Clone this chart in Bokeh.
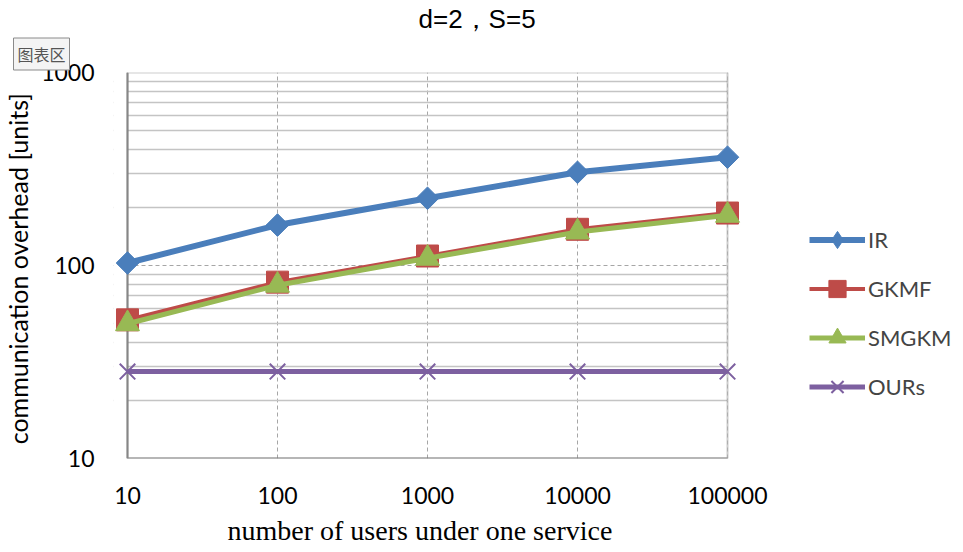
import math
from bokeh.plotting import figure
from bokeh.models import (FixedTicker, Legend, LegendItem, Title, BoxAnnotation)
from bokeh.embed import file_html
from bokeh.resources import INLINE

users = [10, 100, 1000, 10000, 100000]
x_tick_labels = ["10", "100", "1000", "10000", "100000"]
y_ticks = [10, 100, 1000]
y_tick_labels = ["10", "100", "1000"]
ir = [103, 162, 223, 304, 364]
gkmf = [52.3, 82, 112, 154, 187]
smgkm = [49.9, 79, 109, 149, 182]
ours = [28.2, 28.2, 28.2, 28.2, 28.2]

X0, X1, Y0, Y1 = 10, 100000, 10, 1000
DEC = 150.0          # px per decade on x
LEFT_PAD = 14        # px so edge markers are not clipped
CANVAS_W = 961
LEFT_BORDER = 113
FRAME_W = CANVAS_W - LEFT_BORDER
RIGHT_EXT = FRAME_W - LEFT_PAD - 4 * DEC   # legend lives in this part of the frame
xr = (10 ** (math.log10(X0) - LEFT_PAD / DEC), 10 ** (math.log10(X1) + RIGHT_EXT / DEC))

p = figure(width=CANVAS_W, height=552, x_axis_type="log", y_axis_type="log",
           x_range=xr, y_range=(Y0, Y1), title=None,
           output_backend="svg", toolbar_location=None, min_border=0,
           min_border_left=LEFT_BORDER, min_border_right=0,
           min_border_top=72, min_border_bottom=93)
p.outline_line_color = None

minor = [v * m for v in (10, 100) for m in range(2, 10)]
p.yaxis.ticker = FixedTicker(ticks=y_ticks, minor_ticks=minor)
p.xaxis.ticker = FixedTicker(ticks=users)
p.xaxis.major_label_overrides = dict(zip(users, x_tick_labels))
p.yaxis.major_label_overrides = dict(zip(y_ticks, y_tick_labels))

for ax in (p.xaxis[0], p.yaxis[0]):
    ax.major_tick_line_color = None
    ax.minor_tick_line_color = None
    ax.axis_line_color = None
    ax.major_label_text_font = "Lato"
    ax.major_label_text_font_size = "23px"
    ax.major_label_text_color = "#000000"
    ax.major_label_text_line_height = 1.0
    ax.axis_label_text_font_style = "normal"
    ax.axis_label_text_color = "#000000"

p.yaxis.major_label_standoff = 13
p.xaxis.major_label_standoff = 22
p.yaxis.axis_label = "communication overhead  [units]"
p.yaxis.axis_label_text_font = "Lato"
p.yaxis.axis_label_text_font_size = "25px"
p.yaxis.axis_label_standoff = 5

p.ygrid.grid_line_color = "#a6a6a6"
p.ygrid.grid_line_dash = "4 3"
p.ygrid.minor_grid_line_color = "#c4c4c4"
p.ygrid.minor_grid_line_width = 1.5
p.xgrid.grid_line_color = "#a6a6a6"
p.xgrid.grid_line_dash = "4 3"

# white masks outside the plot area (hide grid there)
for kw in (dict(right=X0), dict(left=X1)):
    p.add_layout(BoxAnnotation(fill_color="white", fill_alpha=1, line_color=None,
                               level="underlay", **kw))
# plot area border
p.add_layout(BoxAnnotation(left=X0, right=X1, bottom=Y0, top=Y1, fill_alpha=0,
                           line_color="#595959", line_width=2, level="underlay"))
p.segment(x0=[X0, X0], y0=[Y0, Y0], x1=[X0, X1], y1=[Y1, Y0],
          line_color="#868686", line_width=2)

l_ir = p.line(users, ir, line_color="#4A7EBB", line_width=6)
m_ir = p.scatter(users, ir, marker="square", angle=0.785398, size=16,
                 fill_color="#4A7EBB", line_color="#4A7EBB")
l_gk = p.line(users, gkmf, line_color="#BE4B48", line_width=4)
m_gk = p.scatter(users, gkmf, marker="square", size=22,
                 fill_color="#BE4B48", line_color="#BE4B48")
l_sm = p.line(users, smgkm, line_color="#98B954", line_width=5)
m_sm = p.scatter(users, smgkm, marker="triangle", size=24,
                 fill_color="#98B954", line_color="#98B954")
l_ou = p.line(users, ours, line_color="#7D60A0", line_width=5)
m_ou = p.scatter(users, ours, marker="x", size=22, line_width=2,
                 line_color="#7D60A0")
# legend-only diamond marker (hidden in the plot)
lg_ir = p.scatter(users, ir, marker="diamond", fill_color="#4A7EBB",
                  line_color="#4A7EBB", visible=False)

legend = Legend(items=[
    LegendItem(label="IR", renderers=[l_ir, lg_ir]),
    LegendItem(label="GKMF", renderers=[l_gk, m_gk]),
    LegendItem(label="SMGKM", renderers=[l_sm, m_sm]),
    LegendItem(label="OURs", renderers=[l_ou, m_ou]),
], location=(696, 50), padding=0, margin=0, spacing=6,
   glyph_width=56, glyph_height=43, label_standoff=3,
   label_text_font="Lato", label_text_font_size="22px",
   inactive_fill_alpha=0,
   border_line_color=None, background_fill_alpha=0)
p.add_layout(legend, "center")

x_title = Title(text="number of users under one service", align="left", offset=114,
                text_font="Liberation Serif", text_font_size="28px", text_line_height=1.0,
                text_font_style="normal", text_color="#000000", standoff=13)
p.add_layout(x_title, "below")

tag = Title(text="图表区", align="left", offset=-100, standoff=5,
            text_font="Noto Sans CJK SC", text_font_size="16px", text_font_style="normal",
            text_color="#555555", border_line_color="#8a8a8a", text_line_height=1.0,
            background_fill_color="#f4f4f4", padding=4)
p.add_layout(tag, "above")
main_title = Title(text="d=2，S=5", align="left", offset=305, standoff=0,
                   text_font="Liberation Sans", text_font_size="26px", text_line_height=1.0,
                   text_font_style="normal", text_color="#000000")
p.add_layout(main_title, "above")

open("out.html", "w").write(file_html(p, INLINE))
